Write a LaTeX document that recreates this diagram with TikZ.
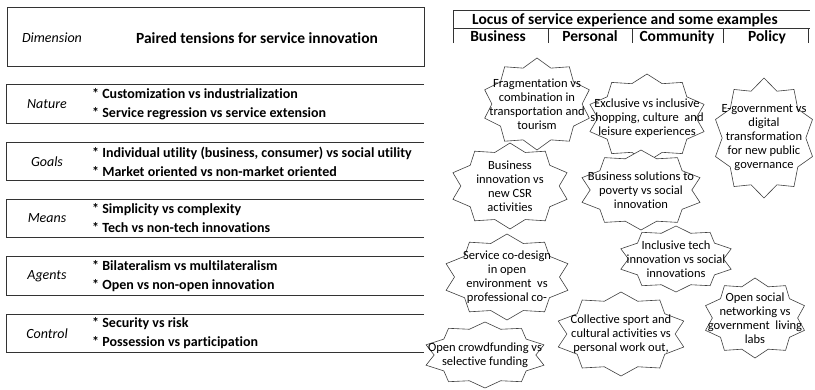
\documentclass[tikz,border=0pt]{standalone}
\usepackage{fontspec}
\setmainfont{Carlito}[Ligatures=NoCommon]
\usetikzlibrary{positioning}

\tikzset{
  boxline/.style={draw=black!80, line width=1pt},
  rowbox/.style={minimum width=417pt, minimum height=38pt, inner sep=0pt},
  dimlabel/.style={font=\fontsize{14}{16}\selectfont\itshape},
  pairs/.style={font=\fontsize{14}{19}\selectfont\bfseries, align=left, anchor=west, inner sep=0pt},
  colhead/.style={font=\fontsize{15.5}{17}\selectfont\bfseries, anchor=base, inner sep=0pt},
  burstline/.style={draw=black!75, fill=white, line width=0.6pt},
  bursttext/.style={align=center, font=\fontsize{12.5}{14}\selectfont, inner sep=0pt},
}

% 10-point burst: name, centre, x radius, y radius, text
\newcommand\burst[5]{%
  \draw[burstline, shift={(#2)}] plot[samples at={0,...,19}, variable=\k]
    ({(1-0.18*mod(\k,2))*#3*cos(90+18*\k)}, {(1-0.18*mod(\k,2))*#4*sin(90+18*\k)}) -- cycle;
  \node[bursttext] (#1) at (#2) {#5};
}

\begin{document}
\begin{tikzpicture}[x=1pt, y=-1pt]
  \useasboundingbox[fill=white] (0,0) rectangle (815,389);

  % left table
  \node[rowbox, boxline, minimum height=59pt] (head) at (215.5,36.5) {};
  \node[dimlabel] (dimhead) at (52,38) {Dimension};
  \node[font=\fontsize{15.5}{17}\selectfont\bfseries] (pairhead) at (257,38) {Paired tensions for service innovation};

  \node[rowbox] (nature) at (215.5,104) {};
  \draw[boxline] (nature.north east) -- (nature.north west) -- (nature.south west) -- (nature.south east);
  \node[dimlabel] (naturelab) at (47,104) {Nature};
  \node[pairs] (naturepairs) at (92,104) {* Customization vs industrialization\\* Service regression vs service extension};

  \node[rowbox] (goals) at (215.5,161.5) {};
  \draw[boxline] (goals.north east) -- (goals.north west) -- (goals.south west) -- (goals.south east);
  \node[dimlabel] (goalslab) at (47,161.5) {Goals};
  \node[pairs] (goalspairs) at (92,161.5) {* Individual utility (business, consumer) vs social utility\\* Market oriented vs non-market oriented};

  \node[rowbox] (means) at (215.5,218.5) {};
  \draw[boxline] (means.north east) -- (means.north west) -- (means.south west) -- (means.south east);
  \node[dimlabel] (meanslab) at (47,218.5) {Means};
  \node[pairs] (meanspairs) at (92,218.5) {* Simplicity vs complexity\\* Tech vs non-tech innovations};

  \node[rowbox] (agents) at (215.5,276) {};
  \draw[boxline] (agents.north east) -- (agents.north west) -- (agents.south west) -- (agents.south east);
  \node[dimlabel] (agentslab) at (47,276) {Agents};
  \node[pairs] (agentspairs) at (92,276) {* Bilateralism vs multilateralism\\* Open vs non-open innovation};

  \node[rowbox] (control) at (215.5,333.5) {};
  \draw[boxline] (control.north east) -- (control.north west) -- (control.south west) -- (control.south east);
  \node[dimlabel] (controllab) at (47,333.5) {Control};
  \node[pairs] (controlpairs) at (92,333.5) {* Security vs risk\\* Possession vs participation};

  % right header
  \draw[boxline] (453,43) -- (453,10) -- (810,10);
  \draw[boxline] (453,28) -- (810,28);
  \draw[boxline] (548,28) -- (548,43);
  \draw[boxline] (632,28) -- (632,43);
  \draw[boxline] (723,28) -- (723,43);
  \draw[boxline] (808,28) -- (808,43);
  \node[colhead] (locus) at (625,24) {Locus of service experience and some examples};
  \node[colhead] (business) at (498,41) {Business};
  \node[colhead] (personal) at (590,41) {Personal};
  \node[colhead] (community) at (677,41) {Community};
  \node[colhead] (policy) at (767,41) {Policy};

  % examples
  \burst{frag}{537,104}{55}{46}{Fragmentation vs\\combination in\\transportation and\\tourism}
  \burst{excl}{647,118}{60}{44}{Exclusive vs inclusive\\shopping, culture\ \ and\\leisure experiences}
  \burst{egov}{764,138}{51}{60}{E-government vs\\digital\\transformation\\for new public\\governance}
  \burst{bizinno}{510,186}{60}{43}{Business\\innovation vs\\new CSR\\activities}
  \burst{poverty}{641,190}{62}{40}{Business solutions to\\poverty vs social\\innovation}
  \burst{codesign}{507,277}{64}{43}{Service co-design\\in open\\environment\ \ vs\\professional co-}
  \burst{incltech}{676,259}{58}{33}{Inclusive tech\\innovation vs social\\innovations}
  \burst{sport}{621,334}{66}{42}{Collective sport and\\cultural activities vs\\personal work out,}
  \burst{living}{755,318}{52}{40}{Open social\\networking vs\\government\ \ living\\labs}
  \burst{crowd}{485,355}{62}{33}{Open crowdfunding vs\\selective funding}
\end{tikzpicture}
\end{document}
